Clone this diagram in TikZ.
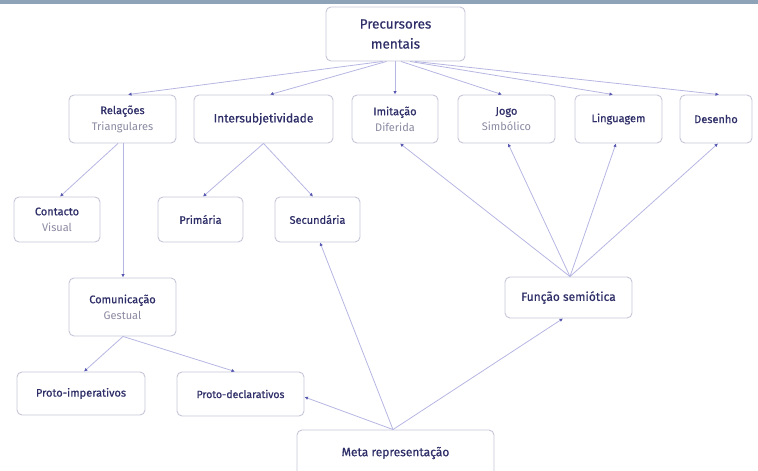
\documentclass[tikz,border=0pt]{standalone}
\usepackage{fontspec}
\setmainfont{Fira Sans}
\newfontfamily\medfont{Fira Sans}[FakeBold=0.7]
\usetikzlibrary{arrows.meta,calc}
\definecolor{boxline}{HTML}{C6C6D8}
\definecolor{txt}{HTML}{2E2E68}
\definecolor{subtxt}{HTML}{8A8AA2}
\definecolor{edgecol}{HTML}{B6B6E2}
\definecolor{tipcol}{HTML}{5858B0}
\definecolor{band}{HTML}{8EA2B8}
\tikzset{
  box/.style={draw=boxline, line width=0.9pt, rounded corners=5pt, fill=white,
    text=txt, inner sep=0pt, align=center, font=\fontsize{11}{16}\selectfont\medfont},
  conn/.style={draw=edgecol, line width=0.8pt,
    -{Latex[length=3.5pt,width=3.5pt,color=tipcol]}},
  big/.style={font=\fontsize{12}{16}\selectfont\medfont},
}
\newcommand{\subl}[1]{\textcolor{subtxt}{\normalfont\fontsize{11}{16}\selectfont #1}}
\begin{document}
\begin{tikzpicture}[x=1pt,y=-1pt]
\useasboundingbox (0,0) rectangle (758,471);
\fill[band] (0,0) rectangle (758,3.5);
% nodes
\node[box, minimum width=139, minimum height=54, font=\fontsize{13.5}{20}\selectfont\medfont] (prec) at (395.5,34) {Precursores\\mentais};
\node[box, minimum width=107, minimum height=48] (rel) at (122.5,119) {Relações\\\subl{Triangulares}};
\node[box, big, minimum width=139, minimum height=48] (inter) at (263.5,119) {Intersubjetividade};
\node[box, minimum width=86, minimum height=48] (imit) at (395,119) {Imitação\\\subl{Diferida}};
\node[box, minimum width=97, minimum height=48] (jogo) at (506.5,119) {Jogo\\\subl{Simbólico}};
\node[box, minimum width=87, minimum height=48] (ling) at (618.5,119) {Linguagem};
\node[box, minimum width=72, minimum height=48] (des) at (716,119) {Desenho};
\node[box, minimum width=86, minimum height=45] (cont) at (57,219.5) {Contacto\\\subl{Visual}};
\node[box, minimum width=85, minimum height=45] (prim) at (200.5,219.5) {Primária};
\node[box, minimum width=85, minimum height=45] (sec) at (317.5,219.5) {Secundária};
\node[box, minimum width=107, minimum height=58] (com) at (122.5,307) {Comunicação\\\subl{Gestual}};
\node[box, big, minimum width=127, minimum height=41] (func) at (568.5,297.5) {Função semiótica};
\node[box, minimum width=128, minimum height=43] (pimp) at (81,393.5) {Proto-imperativos};
\node[box, minimum width=127, minimum height=44, font=\fontsize{10.5}{14}\selectfont\medfont] (pdec) at (240.5,394) {Proto-declarativos};
\node[box, big, minimum width=197, minimum height=46] (meta) at (395.5,453) {Meta representação};
% connectors from Precursores
\draw[conn] ($(prec.south)+(-13,0)$) -- ($(rel.north)+(5.5,0)$);
\draw[conn] ($(prec.south)+(-9,0)$) -- ($(inter.north)+(6.5,0)$);
\draw[conn] ($(prec.south)+(-0.5,0)$) -- ($(imit.north)+(0,0)$);
\draw[conn] ($(prec.south)+(5.5,0)$) -- ($(jogo.north)+(-4.5,0)$);
\draw[conn] ($(prec.south)+(14.5,0)$) -- ($(ling.north)+(-5.5,0)$);
\draw[conn] ($(prec.south)+(19.5,0)$) -- ($(des.north)+(3,0)$);
% second level
\draw[conn] ($(rel.south)+(-4.5,0)$) -- ($(cont.north)+(3,0)$);
\draw[conn] ($(rel.south)+(0.5,0)$) -- ($(com.north)+(0.5,0)$);
\draw[conn] (inter.south) -- ($(prim.north)+(2.5,0)$);
\draw[conn] (inter.south) -- ($(sec.north)+(-4.5,0)$);
\draw[conn] ($(com.south)+(0.5,0)$) -- ($(pimp.north)+(3,0)$);
\draw[conn] ($(com.south)+(0.5,0)$) -- ($(pdec.north)+(-5.5,0)$);
% Meta representacao
\coordinate (mtop) at ($(meta.north)+(-2.5,0)$);
\draw[conn] (mtop) -- ($(pdec.east)+(0,3)$);
\draw[conn] (mtop) -- ($(sec.south)+(2.5,0)$);
\draw[conn] (mtop) -- ($(func.south)+(-5.5,0)$);
% Funcao semiotica
\coordinate (ftop) at ($(func.north)+(1.5,0)$);
\draw[conn] (ftop) -- ($(imit.south)+(5,0)$);
\draw[conn] (ftop) -- ($(jogo.south)+(1.5,0)$);
\draw[conn] (ftop) -- ($(ling.south)+(-2.5,0)$);
\draw[conn] (ftop) -- ($(des.south)+(2,0)$);
\end{tikzpicture}
\end{document}
